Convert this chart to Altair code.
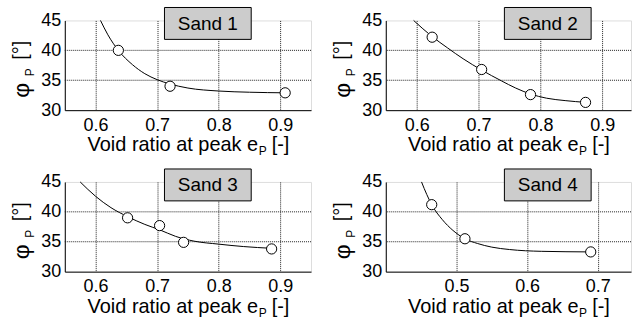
import altair as alt
import pandas as pd

FONT = "Liberation Sans"

# ---- data ----
labels = ["Sand 1", "Sand 2", "Sand 3", "Sand 4"]

s1_pt_e = [0.637, 0.721, 0.908]
s1_pt_phi = [40.0, 34.0, 32.9]
s1_cv_e = [0.608, 0.62, 0.637, 0.66, 0.68, 0.70, 0.72, 0.75, 0.80, 0.85, 0.908]
s1_cv_phi = [45.0, 42.6, 40.0, 37.6, 36.1, 35.1, 34.4, 33.7, 33.2, 33.0, 32.9]

s2_pt_e = [0.625, 0.705, 0.784, 0.873]
s2_pt_phi = [42.2, 36.8, 32.6, 31.3]
s2_cv_e = [0.595, 0.625, 0.65, 0.675, 0.705, 0.737, 0.76, 0.784, 0.81, 0.84, 0.873]
s2_cv_phi = [45.0, 42.3, 40.4, 38.6, 36.7, 34.9, 33.7, 32.7, 32.0, 31.6, 31.3]

s3_pt_e = [0.652, 0.704, 0.743, 0.886]
s3_pt_phi = [39.0, 37.7, 34.9, 33.8]
s3_cv_e = [0.575, 0.60, 0.625, 0.652, 0.68, 0.704, 0.73, 0.76, 0.80, 0.84, 0.886]
s3_cv_phi = [45.0, 42.6, 40.7, 39.2, 37.9, 37.0, 35.9, 35.1, 34.6, 34.2, 33.9]

s4_pt_e = [0.465, 0.512, 0.690]
s4_pt_phi = [41.2, 35.5, 33.3]
s4_cv_e = [0.4506, 0.458, 0.465, 0.48, 0.495, 0.512, 0.53, 0.55, 0.575, 0.62, 0.69]
s4_cv_phi = [45.0, 42.9, 41.2, 38.7, 36.9, 35.5, 34.7, 34.1, 33.7, 33.4, 33.3]

x_ticks_a = [0.6, 0.7, 0.8, 0.9]
x_ticks_b = [0.5, 0.6, 0.7]
y_ticks = [30.0, 35.0, 40.0, 45.0]
y_grid = [35.0, 40.0]

x_title_main = "Void ratio at peak e"
x_title_sub = "P"
x_title_tail = "[-]"
y_title_main = "φ"
y_title_sub = "P"
y_title_tail = "[°]"

H = 90
GRID_COLOR = "#222222"


def make_yaxis():
    return alt.Axis(values=y_ticks, format="d", title=None, grid=False, ticks=False, tickSize=0,
                    tickCount=4, labelOverlap=False,
                    labelFontSize=18, labelPadding=4, labelColor="black", labelFont=FONT,
                    domainColor="black", domainWidth=1, labelFlush=False)


def make_xaxis(xticks):
    return alt.Axis(values=xticks, format=".1f", title=None, grid=True, ticks=False,
                    tickSize=0, labelFontSize=18, labelPadding=6, labelColor="black",
                    labelFont=FONT, domainColor="black", domainWidth=1, labelOverlap=False,
                    gridColor=GRID_COLOR, gridDash=[1, 1], gridWidth=1, labelFlush=False)


def panel(pt_e, pt_phi, cv_e, cv_phi, label, xdom, xticks, width, box_x0):
    xs = alt.Scale(domain=xdom, nice=False, zero=False)
    ys = alt.Scale(domain=[30, 45], nice=False, zero=False)
    cdf = pd.DataFrame({"e": cv_e, "phi": cv_phi})
    pdf = pd.DataFrame({"e": pt_e, "phi": pt_phi})
    gdf = pd.DataFrame({"g": y_grid})
    hgrid = alt.Chart(gdf).mark_rule(color=GRID_COLOR, strokeWidth=1, strokeDash=[1, 1]).encode(
        y=alt.Y("g:Q", scale=ys, axis=make_yaxis()))
    curve = alt.Chart(cdf).mark_line(color="black", strokeWidth=1, interpolate="monotone").encode(
        x=alt.X("e:Q", scale=xs, axis=make_xaxis(xticks)),
        y=alt.Y("phi:Q", scale=ys, axis=make_yaxis()),
    )
    pts = alt.Chart(pdf).mark_point(shape="circle", filled=True, fill="white", stroke="black",
                                    strokeWidth=1, size=105, opacity=1).encode(
        x=alt.X("e:Q", scale=xs, axis=make_xaxis(xticks)),
        y=alt.Y("phi:Q", scale=ys, axis=make_yaxis()))

    ldf = pd.DataFrame({"label": [label]})
    box = alt.Chart(ldf).mark_rect(fill="#cccccc", stroke="black", strokeWidth=1).encode(
        x=alt.value(box_x0), x2=alt.value(box_x0 + 87), y=alt.value(-13), y2=alt.value(19))
    btxt = alt.Chart(ldf).mark_text(font=FONT, fontSize=19, color="black", align="center",
                                    baseline="middle").encode(
        text="label:N", x=alt.value(box_x0 + 43.5), y=alt.value(3.5))

    # x title with subscript
    tdf = pd.DataFrame({"a": [x_title_main], "b": [x_title_sub], "c": [x_title_tail]})
    main_w = 172.3
    sub_w = 8.0
    tail_w = 23.4
    total = main_w + sub_w + tail_w
    start = width / 2 - total / 2
    xa = start + main_w
    xt1 = alt.Chart(tdf).mark_text(font=FONT, fontSize=20, color="black", align="right",
                                   baseline="alphabetic").encode(
        text="a:N", x=alt.value(xa), y=alt.value(131))
    xt2 = alt.Chart(tdf).mark_text(font=FONT, fontSize=12, color="black", align="left",
                                   baseline="alphabetic").encode(
        text="b:N", x=alt.value(xa + 0.5), y=alt.value(135))
    xt3 = alt.Chart(tdf).mark_text(font=FONT, fontSize=20, color="black", align="left",
                                   baseline="alphabetic").encode(
        text="c:N", x=alt.value(xa + sub_w + 5.6), y=alt.value(131))

    # y title with subscript (rotated)
    ydf = pd.DataFrame({"a": [y_title_main], "b": [y_title_sub], "c": [y_title_tail]})
    yt1 = alt.Chart(ydf).mark_text(font=FONT, fontSize=23, color="black", align="center",
                                   baseline="middle", angle=270).encode(
        text="a:N", x=alt.value(-43), y=alt.value(70))
    yt2 = alt.Chart(ydf).mark_text(font=FONT, fontSize=12, color="black", align="center",
                                   baseline="middle", angle=270).encode(
        text="b:N", x=alt.value(-35), y=alt.value(52))
    yt3 = alt.Chart(ydf).mark_text(font=FONT, fontSize=20, color="black", align="center",
                                   baseline="middle", angle=270).encode(
        text="c:N", x=alt.value(-44), y=alt.value(30))

    return alt.layer(hgrid, curve, pts, box, btxt, xt1, xt2, xt3, yt1, yt2, yt3).properties(
        width=width, height=H)


p1 = panel(s1_pt_e, s1_pt_phi, s1_cv_e, s1_cv_phi, labels[0], [0.55, 0.95], x_ticks_a, 247, 100)
p2 = panel(s2_pt_e, s2_pt_phi, s2_cv_e, s2_cv_phi, labels[1], [0.55, 0.9465], x_ticks_a, 246, 119)
p3 = panel(s3_pt_e, s3_pt_phi, s3_cv_e, s3_cv_phi, labels[2], [0.55, 0.95], x_ticks_a, 247, 100)
p4 = panel(s4_pt_e, s4_pt_phi, s4_cv_e, s4_cv_phi, labels[3], [0.4, 0.747], x_ticks_b, 246, 119)

chart = alt.concat(p1, p2, p3, p4, columns=2,
                   spacing=alt.RowColnumber(row=72, column=75),
                   bounds="flush").properties(
    padding={"left": 10, "top": 6, "right": 0, "bottom": 4},
    background="white",
).configure_view(stroke="black", strokeWidth=1).configure(font=FONT)

chart.save("out.html", embed_options={"renderer": "svg", "actions": False})
